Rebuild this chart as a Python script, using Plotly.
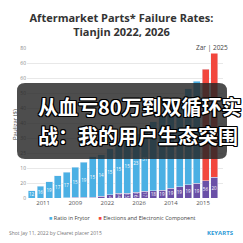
import plotly.graph_objects as go

# ---- data ----
bar_idx = list(range(22))
purple_vals = [0, 0, 0, 0, 0.3, 0.4, 0.5, 0.5, 1.3, 2.2, 3.1, 3.1, 3.8, 4.5, 4.9, 5.3, 6.5, 7.5, 8.7, 9.8, 11.5, 13.8]
blue_vals = [4.7, 8.0, 11.0, 14.7, 17.0, 20.0, 23.5, 27.1, 27.7, 30.8, 32.9, 36.9, 39.2, 42.5, 46.1, 49.7, 53.5, 59.5, 64.3, 68.2, None, None]
red_vals = [None] * 20 + [74.5, 83.2]
blue_labels = ["12", "16", "19", "17", "17", "15", "19", "15", "14", "15", "15", "15", "23", "31", "", "", "", "", "", "", "", ""]
purple_labels = ["", "", "", "", "", "", "", "", "", "14", "14", "15", "16", "17", "18", "19", "19", "19", "19", "19", "56", "20"]
xtick_pos = [1.3, 5.0, 8.7, 12.35, 16.0, 19.7]
xtick_text = ["2011", "2009", "2022", "2026", "2014", "2015"]
ytick_vals = [0, 10, 20, 30, 40, 50, 60, 70, 80, 90, 100]
ytick_text = ["0", "20", "10", "25", "30", "40", "40", "50", "60", "60", "80"]
series_names = ["Ratio in Frytor", "Elections and Electronic Component"]

BLUE = "#4BB0E4"
RED = "#F2473D"
PURPLE = "#6A50A7"

# layout geometry (pixels)
W = H = 243
L, R, T, B = 27, 20, 48, 45
PW = W - L - R
PH = H - T - B

def px(x):
    return (x - L) / PW

def py(y):
    return (H - B - y) / PH

fig = go.Figure()
fig.add_trace(go.Bar(x=bar_idx, y=purple_vals, marker_color=PURPLE, text=purple_labels,
                     textposition="inside", insidetextanchor="middle",
                     textfont=dict(color="white", size=4.5), showlegend=False, hoverinfo="skip"))
fig.add_trace(go.Bar(x=bar_idx, y=blue_vals, marker_color=BLUE, name=series_names[0], text=blue_labels,
                     textposition="inside", insidetextanchor="middle",
                     textfont=dict(color="white", size=4.5), showlegend=False))
fig.add_trace(go.Bar(x=bar_idx, y=red_vals, marker_color=RED, name=series_names[1], showlegend=False))

# rounded dark overlay box
x0, x1, y0, y1, r = 17, 227, 83, 159, 8
path = (f"M {px(x0+r)} {py(y0)} L {px(x1-r)} {py(y0)} Q {px(x1)} {py(y0)} {px(x1)} {py(y0+r)} "
        f"L {px(x1)} {py(y1-r)} Q {px(x1)} {py(y1)} {px(x1-r)} {py(y1)} "
        f"L {px(x0+r)} {py(y1)} Q {px(x0)} {py(y1)} {px(x0)} {py(y1-r)} "
        f"L {px(x0)} {py(y0+r)} Q {px(x0)} {py(y0)} {px(x0+r)} {py(y0)} Z")
fig.add_shape(type="path", path=path, xref="paper", yref="paper",
              fillcolor="rgba(38,38,38,0.82)", line=dict(width=0), layer="above")

shadow = ("-1px -1px 0 #000, 1px -1px 0 #000, -1px 1px 0 #000, 1px 1px 0 #000, "
          "0 -1px 0 #000, 0 1px 0 #000, -1px 0 0 #000, 1px 0 0 #000")
cjk = dict(family="Noto Sans CJK SC", size=20, color="white", weight="bold", shadow=shadow)
fig.add_annotation(text="从血亏80万到双循环实", x=px(36), y=py(106), xref="paper", yref="paper",
                   xanchor="left", yanchor="middle", showarrow=False, font=cjk)
fig.add_annotation(text="战：我的用户生态突围", x=px(36), y=py(135), xref="paper", yref="paper",
                   xanchor="left", yanchor="middle", showarrow=False, font=cjk)

# label above last bars
fig.add_annotation(text="Zar | 2025", x=px(212), y=py(47), xref="paper", yref="paper",
                   xanchor="center", yanchor="middle", showarrow=False, bgcolor="white",
                   font=dict(family="Open Sans", size=6.5, color="#444"))

# y-axis title
fig.add_annotation(text="Paulizar ($)", x=px(9), y=py(125), xref="paper", yref="paper",
                   textangle=-90, showarrow=False, font=dict(family="Open Sans", size=6, color="#444"))

# legend (manual)
fig.add_annotation(text=f"<span style='color:{BLUE}'>■</span> {series_names[0]}      "
                        f"<span style='color:{RED}'>■</span> {series_names[1]}",
                   x=px(122), y=py(218), xref="paper", yref="paper", xanchor="center", yanchor="middle",
                   showarrow=False, font=dict(family="Open Sans", size=5.5, color="#444"))

# footer
fig.add_annotation(text="Shot Jay 11, 2022 by Clearet placer 2015", x=px(7), y=py(233), xref="paper", yref="paper",
                   xanchor="left", yanchor="middle", showarrow=False,
                   font=dict(family="Open Sans", size=5, color="#777"))
fig.add_annotation(text="<b>KEYARTS</b>", x=px(236), y=py(233), xref="paper", yref="paper",
                   xanchor="right", yanchor="middle", showarrow=False,
                   font=dict(family="Open Sans", size=6, color="#2E9BD6"))

fig.update_layout(
    width=W, height=H,
    margin=dict(l=L, r=R, t=T, b=B),
    paper_bgcolor="white", plot_bgcolor="white",
    barmode="stack", bargap=0.2,
    title=dict(text="<b>Aftermarket Parts* Failure Rates:<br>Tianjin 2022, 2026</b>",
               x=0.5, xref="container", xanchor="center", y=1 - 22 / H, yanchor="middle",
               font=dict(family="Open Sans", size=11, color="#333")),
    uniformtext=dict(minsize=4.5, mode="show"),
    xaxis=dict(range=[-0.55, 22.0], tickvals=xtick_pos, ticktext=xtick_text, showgrid=False,
               zeroline=False, showline=False, ticks="", tickfont=dict(family="Open Sans", size=6, color="#555")),
    yaxis=dict(range=[0, 100], tickvals=ytick_vals, ticktext=ytick_text, showgrid=True,
               gridcolor="#E8E8E8", gridwidth=0.7, zeroline=False, showline=False, ticks="",
               tickfont=dict(family="Open Sans", size=5, color="#888")),
    showlegend=False,
)

fig.write_html("out.html")
